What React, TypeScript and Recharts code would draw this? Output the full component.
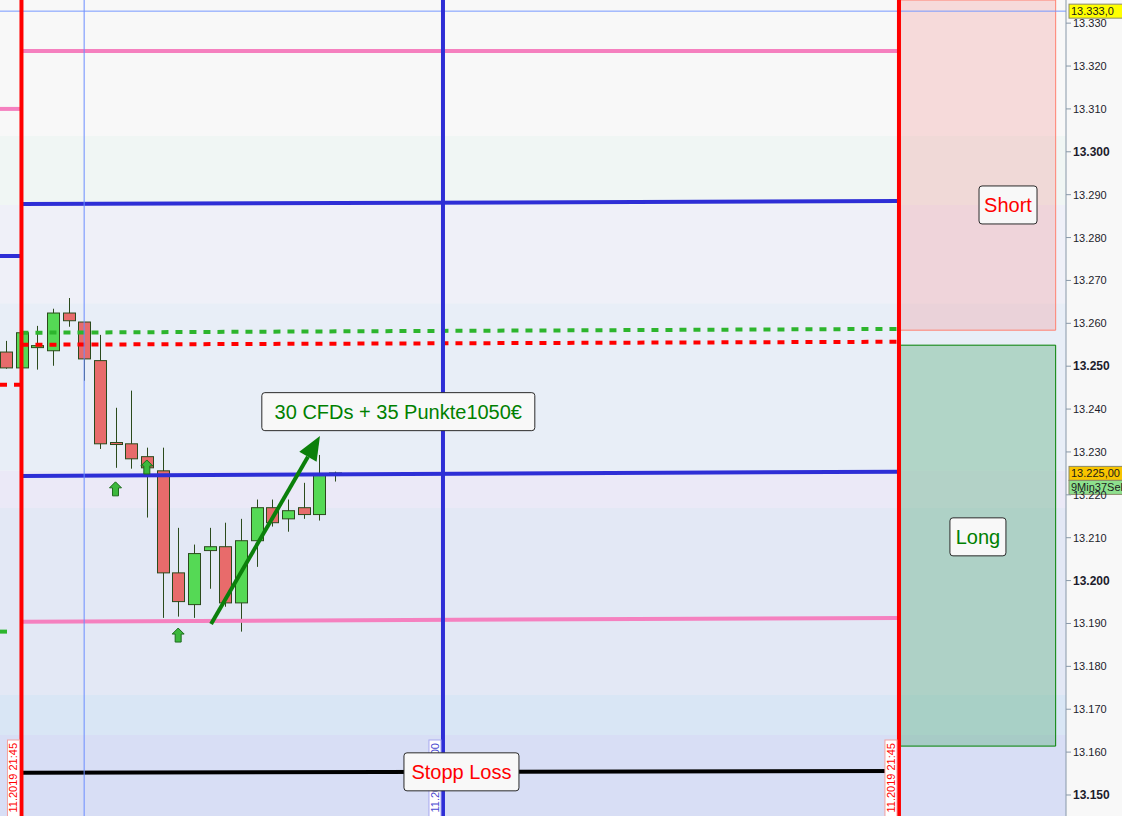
import {
  Bar,
  ComposedChart,
  ReferenceArea,
  ReferenceDot,
  ReferenceLine,
  Scatter,
  XAxis,
  YAxis,
} from 'recharts';

// candle slots (one per bar), prices in index points
const slots = [0, 1, 2, 3, 4, 5, 6, 7, 8, 9, 10, 11, 12, 13, 14, 15, 16, 17, 18, 19, 20, 21];
const opens = [13253.3, 13249.6, 13254.7, 13253.6, 13262.4, 13260.3, 13251.3, 13232.2, 13231.9, 13228.9, 13225.6, 13201.8, 13194.4, 13207.0, 13207.9, 13194.8, 13209.3, 13217.0, 13214.4, 13217.0, 13215.4, 13225.0];
const highs = [13255.9, 13258.3, 13259.4, 13263.4, 13265.9, 13260.3, 13257.3, 13240.3, 13244.3, 13231.0, 13231.0, 13212.3, 13208.4, 13212.3, 13213.5, 13214.4, 13218.9, 13218.9, 13218.9, 13222.8, 13229.3, 13225.4];
const lows = [13249.4, 13249.3, 13249.2, 13250.1, 13259.2, 13246.6, 13230.7, 13226.3, 13226.1, 13214.7, 13191.3, 13191.6, 13191.3, 13198.1, 13193.9, 13188.1, 13203.2, 13212.6, 13211.4, 13214.4, 13214.0, 13223.1];
const closes = [13249.6, 13257.8, 13254.8, 13262.4, 13260.6, 13251.7, 13231.9, 13232.1, 13228.4, 13226.3, 13201.8, 13195.1, 13206.3, 13207.9, 13194.8, 13209.3, 13217.0, 13213.5, 13216.3, 13215.4, 13224.7, 13225.1];

// buy signal arrows
const signalSlots = [7, 9, 11];
const signalPrices = [13221.4, 13226.5, 13187.3];

const priceTicks = [13150, 13160, 13170, 13180, 13190, 13200, 13210, 13220, 13230, 13240, 13250, 13260, 13270, 13280, 13290, 13300, 13310, 13320, 13330];

const candles = slots.map((i, k) => ({
  i,
  open: opens[k],
  high: highs[k],
  low: lows[k],
  close: closes[k],
}));
const signals = signalSlots.map((i, k) => ({ i, v: signalPrices[k] }));

const font = 'Liberation Sans, Arial, sans-serif';
const X0 = -0.37;
const X1 = 67.66;

const fmt = (v: number) => {
  const t = Math.round(v);
  return `${Math.floor(t / 1000)}.${String(t % 1000).padStart(3, '0')}`;
};

const Candle = (props: any) => {
  const { x, y, width, height, payload } = props;
  const { open, close, high, low } = payload;
  const top = Math.min(y, y + height);
  const h = Math.abs(height);
  const py = (v: number) => top + ((high - v) / (high - low)) * h;
  const bTop = py(Math.max(open, close));
  const bBot = py(Math.min(open, close));
  const cx = Math.round(x + width / 2) + 0.5;
  const up = close > open;
  return (
    <g>
      <line x1={cx} x2={cx} y1={top} y2={top + h} stroke='#2b4a1c' strokeWidth={1} />
      <rect
        x={cx - width / 2}
        y={bTop}
        width={width}
        height={Math.max(bBot - bTop, 2)}
        fill={up ? '#55d955' : '#e86b6b'}
        stroke='#2b4a1c'
        strokeWidth={1}
      />
    </g>
  );
};

const UpArrow = (props: any) => {
  const { cx, cy } = props;
  const pts = [
    [cx, cy - 7],
    [cx + 6, cy - 1],
    [cx + 3, cy - 1],
    [cx + 3, cy + 7],
    [cx - 3, cy + 7],
    [cx - 3, cy - 1],
    [cx - 6, cy - 1],
  ]
    .map((p) => p.join(','))
    .join(' ');
  return <polygon points={pts} fill='#3cb83c' stroke='#1d6b1d' strokeWidth={1} />;
};

const PriceTick = (props: any) => {
  const { x, y, payload } = props;
  const bold = payload.value % 50 === 0;
  return (
    <text
      x={x}
      y={y}
      dy={4}
      textAnchor='start'
      fontSize={bold ? 12 : 11}
      fontWeight={bold ? 'bold' : 'normal'}
      fill='#1c1c2c'
      fontFamily={font}
    >
      {fmt(payload.value)}
    </text>
  );
};

const noteShape = (text: string, color: string, w: number) => (props: any) => {
  const { cx, cy } = props;
  return (
    <g>
      <rect x={cx - w / 2} y={cy - 19} width={w} height={38} rx={3} fill='#f8f8f8' stroke='#2a2a2a' strokeWidth={1} />
      <text x={cx} y={cy + 7} textAnchor='middle' fontSize={20} fill={color} fontFamily={font}>
        {text}
      </text>
    </g>
  );
};

const dateTag = (text: string, color: string, border: string) => (p: any) => {
  const lx = p.viewBox.x;
  return (
    <g>
      <rect x={lx - 14} y={740} width={12} height={90} fill='#ffffff' stroke={border} strokeWidth={1} />
      <text
        x={lx - 4}
        y={743}
        transform={`rotate(-90 ${lx - 4} 743)`}
        textAnchor='end'
        fontSize={11}
        fill={color}
        fontFamily={font}
      >
        {text}
      </text>
    </g>
  );
};

const axisTag = (items: { text: string; fill: string }[]) => (p: any) => {
  const vx = p.viewBox.x + p.viewBox.width + 3;
  const vy = p.viewBox.y;
  return (
    <g>
      {items.map((it, k) => (
        <g key={k}>
          <rect x={vx} y={vy - 7 + k * 14} width={60} height={14} fill={it.fill} stroke='#8a8a6a' strokeWidth={1} />
          <text x={vx + 2} y={vy + 4 + k * 14} fontSize={11} fill='#1a1a1a' fontFamily={font}>
            {it.text}
          </text>
        </g>
      ))}
    </g>
  );
};

const TrendArrow = (props: any) => {
  const { x1, y1, x2, y2 } = props;
  const dx = x2 - x1;
  const dy = y2 - y1;
  const len = Math.sqrt(dx * dx + dy * dy);
  const ux = dx / len;
  const uy = dy / len;
  const hb = 24;
  const bx = x2 - ux * hb;
  const by = y2 - uy * hb;
  return (
    <g>
      <line x1={x1} y1={y1} x2={bx} y2={by} stroke='#0b800b' strokeWidth={4} />
      <polygon
        points={`${x2},${y2} ${bx - uy * 10},${by + ux * 10} ${bx + uy * 10},${by - ux * 10}`}
        fill='#0b800b'
      />
    </g>
  );
};

const bands = [
  { y1: 13303.7, y2: 13335.4, fill: '#f8f8f8' },
  { y1: 13287.6, y2: 13303.7, fill: '#f0f6f4' },
  { y1: 13264.7, y2: 13287.6, fill: '#eff0f8' },
  { y1: 13225.6, y2: 13264.7, fill: '#e8eef7' },
  { y1: 13216.9, y2: 13225.6, fill: '#ebe9f7' },
  { y1: 13173.3, y2: 13216.9, fill: '#e3e8f5' },
  { y1: 13164.0, y2: 13173.3, fill: '#d9e6f5' },
  { y1: 13145.1, y2: 13164.0, fill: '#d8def5' },
];

export default function App() {
  return (
    <div style={{ position: 'absolute', left: 0, top: 0, width: 1122, height: 816, background: '#f8f8f8', overflow: 'hidden' }}>
      <ComposedChart width={1122} height={816} data={candles} margin={{ top: 0, right: 0, left: 0, bottom: 0 }}>
        <XAxis dataKey='i' type='number' domain={[X0, X1]} allowDataOverflow hide />
        <YAxis
          orientation='right'
          width={56}
          domain={[13145.1, 13335.4]}
          allowDataOverflow
          ticks={priceTicks}
          interval={0}
          tickSize={5}
          tickMargin={2}
          tick={<PriceTick />}
          stroke='#8898a8'
          axisLine={{ stroke: '#8898a8' }}
          tickLine={{ stroke: '#8898a8' }}
        />
        {bands.map((b, k) => (
          <ReferenceArea key={k} y1={b.y1} y2={b.y2} fill={b.fill} fillOpacity={1} stroke='none' ifOverflow='hidden' />
        ))}
        <ReferenceArea x1={57.1} x2={67.0} y1={13258.4} y2={13335.4} fill='#f07070' fillOpacity={0.22} stroke='#ff8070' />
        <ReferenceArea x1={57.1} x2={67.0} y1={13161.4} y2={13254.9} fill='#60b080' fillOpacity={0.4} stroke='#008000' />

        <ReferenceLine y={13332.8} stroke='#7799ff' strokeWidth={1}
          label={axisTag([{ text: '13.333,0', fill: '#ffff00' }])} />
        <ReferenceLine y={13225} stroke='none'
          label={axisTag([{ text: '13.225,00', fill: '#f8c400' }, { text: '9Min37Sek', fill: '#8ee08e' }])} />

        {/* previous session levels */}
        <ReferenceLine segment={[{ x: X0, y: 13310.0 }, { x: 1, y: 13310.0 }]} stroke='#f580bf' strokeWidth={4} />
        <ReferenceLine segment={[{ x: X0, y: 13275.7 }, { x: 1, y: 13275.7 }]} stroke='#2e2ed6' strokeWidth={4} />
        <ReferenceLine segment={[{ x: X0, y: 13245.7 }, { x: 1, y: 13245.7 }]} stroke='#ff0000' strokeWidth={4} strokeDasharray='7 7' />
        <ReferenceLine segment={[{ x: X0, y: 13188.1 }, { x: 0.2, y: 13188.1 }]} stroke='#2db52d' strokeWidth={4} strokeDasharray='7 7' />

        {/* current session levels */}
        <ReferenceLine segment={[{ x: 1, y: 13323.5 }, { x: 57, y: 13323.5 }]} stroke='#f580bf' strokeWidth={4} />
        <ReferenceLine segment={[{ x: 1, y: 13287.8 }, { x: 57, y: 13288.5 }]} stroke='#2e2ed6' strokeWidth={4} />
        <ReferenceLine segment={[{ x: 1, y: 13257.8 }, { x: 57, y: 13258.7 }]} stroke='#2db52d' strokeWidth={4} strokeDasharray='7 7' />
        <ReferenceLine segment={[{ x: 1, y: 13255.0 }, { x: 57, y: 13255.7 }]} stroke='#ff0000' strokeWidth={4} strokeDasharray='7 7' />
        <ReferenceLine segment={[{ x: 1, y: 13224.4 }, { x: 57, y: 13225.4 }]} stroke='#2e2ed6' strokeWidth={4} />
        <ReferenceLine segment={[{ x: 1, y: 13190.4 }, { x: 57, y: 13191.3 }]} stroke='#f580bf' strokeWidth={4} />
        <ReferenceLine segment={[{ x: 1, y: 13155.2 }, { x: 57, y: 13155.6 }]} stroke='#000000' strokeWidth={4} />

        <ReferenceLine x={5} stroke='#6a8cff' strokeWidth={1} />
        <ReferenceLine x={1} stroke='#ff0000' strokeWidth={4} label={dateTag('11.2019 21:45', '#ff0000', '#f4a0a0')} />
        <ReferenceLine x={27.9} stroke='#2e2ed6' strokeWidth={4} label={dateTag('11.2019 22:00', '#4a4ad0', '#a8a8f0')} />
        <ReferenceLine x={57} stroke='#ff0000' strokeWidth={4} label={dateTag('11.2019 21:45', '#ff0000', '#f4a0a0')} />

        <Bar dataKey={(d: any) => [d.low, d.high]} barSize={12} shape={<Candle />} isAnimationActive={false} />
        <Scatter data={signals} dataKey='v' shape={<UpArrow />} isAnimationActive={false} />

        <ReferenceLine segment={[{ x: 13.1, y: 13189.9 }, { x: 20.05, y: 13233.7 }]} shape={<TrendArrow />} />

        <ReferenceDot x={25.05} y={13239.4} r={0} shape={noteShape('30 CFDs + 35 Punkte1050€', '#008000', 273)} />
        <ReferenceDot x={63.96} y={13287.6} r={0} shape={noteShape('Short', '#ff0000', 58)} />
        <ReferenceDot x={62.04} y={13210.2} r={0} shape={noteShape('Long', '#008000', 56)} />
        <ReferenceDot x={29.08} y={13155.4} r={0} shape={noteShape('Stopp Loss', '#ff0000', 115)} />
      </ComposedChart>
    </div>
  );
}
